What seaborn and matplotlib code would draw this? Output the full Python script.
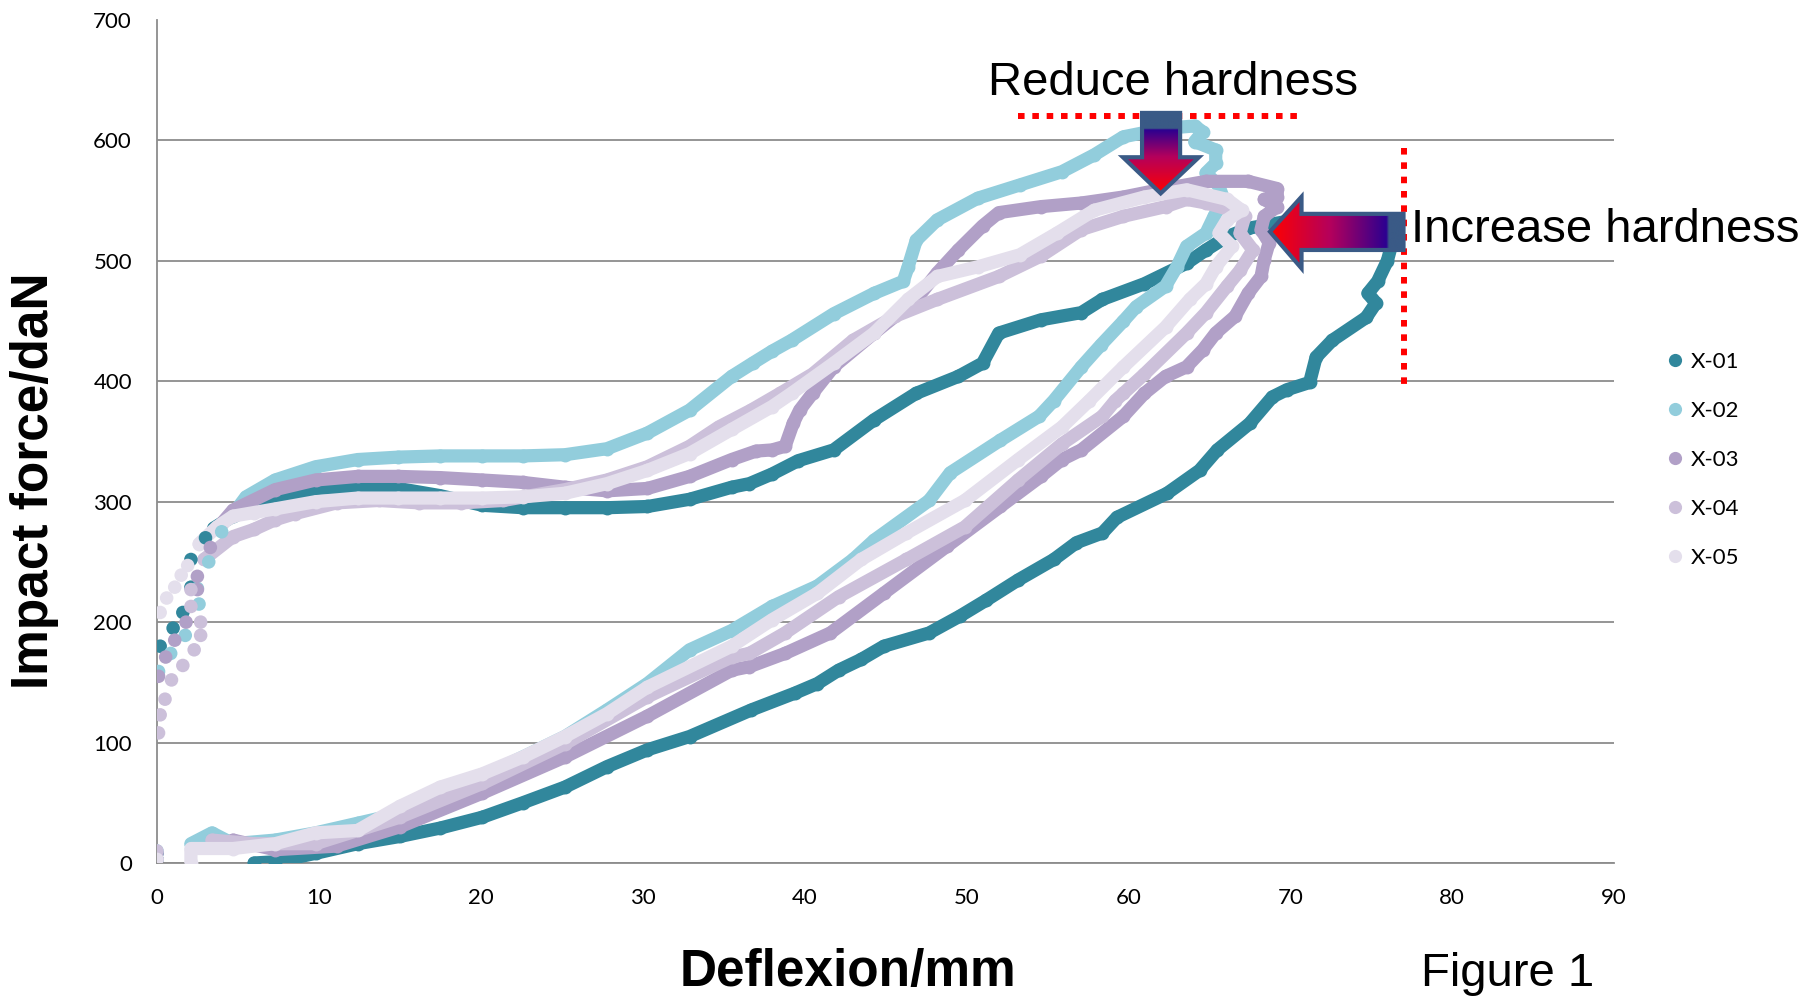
import numpy as np
import pandas as pd
import matplotlib
matplotlib.use("Agg")
import matplotlib.pyplot as plt
import seaborn as sns
from matplotlib.patches import Polygon
from matplotlib.lines import Line2D
from matplotlib.colors import LinearSegmentedColormap
from matplotlib.ticker import MultipleLocator

# --- data (deflexion mm, force daN) ---
samples = ["X-01", "X-02", "X-03", "X-04", "X-05"]
colors = ["#31879c", "#92cddc", "#b1a0c7", "#ccc0da", "#e4dfec"]

# first sparse points of each test (markers only)
x01_rise_x = [0.0, 0.0, 0.2, 1.0, 1.6, 2.1, 2.1, 3.0]
x01_rise_y = [3, 8, 180, 195, 208, 229, 252, 270]
x02_rise_x = [0.0, 0.0, 0.1, 0.85, 1.75, 2.6, 2.5, 3.2, 4.0]
x02_rise_y = [3, 10, 159, 174, 189, 215, 228, 250, 275]
x03_rise_x = [0.0, 0.0, 0.1, 0.54, 1.1, 1.8, 2.5, 2.5, 3.3]
x03_rise_y = [3, 8, 155, 171, 185, 200, 227, 238, 262]
x04_rise_x = [0.0, 0.0, 0.1, 0.2, 0.5, 0.9, 1.6, 2.3, 2.7, 2.7, 2.1, 2.1]
x04_rise_y = [3, 10, 108, 123, 136, 152, 164, 177, 189, 200, 213, 227]
x05_rise_x = [0.0, 0.2, 0.6, 1.1, 1.5, 1.9]
x05_rise_y = [3, 208, 220, 229, 239, 247]

# loading + unloading loop
x01_x = [3.5, 4.7, 6.0, 7.3, 9.8, 12.4, 14.9, 17.5, 20.1, 22.6, 25.2, 27.8, 30.3, 32.9, 35.5,
         36.6, 38.0, 39.6, 41.8, 44.3, 46.9, 49.5, 51.0, 52.0, 54.6, 57.1, 58.4, 61.0, 63.6,
         64.8, 66.1, 67.4, 69.9, 72.0, 74.0, 75.6, 76.3, 76.0, 75.4, 74.8, 75.3, 74.7, 72.6,
         71.6, 71.2, 69.8, 68.9, 67.5, 65.5, 64.4, 62.4, 59.3, 58.4, 56.8, 55.4, 53.2, 51.2,
         49.6, 47.7, 44.9, 43.5, 42.1, 40.8, 39.4, 36.7, 32.9, 30.3, 27.8, 25.2, 22.6, 20.1,
         17.5, 15.0, 12.4, 9.8, 7.3, 6.0]
x01_y = [278, 288, 293, 301, 311, 312, 311, 305, 297, 295, 295, 295, 296, 302, 312,
         315, 323, 334, 343, 368, 390, 404, 415, 440, 451, 457, 468, 481, 498,
         509, 520, 527, 533, 535, 535, 530, 515, 500, 483, 473, 465, 453, 434,
         420, 399, 393, 387, 365, 343, 326, 307, 287, 274, 266, 252, 235, 218,
         205, 191, 180, 169, 160, 149, 141, 127, 105, 94, 80, 63, 50, 38,
         29, 22, 16, 8, 1, 0]

x02_x = [5.0, 5.5, 7.3, 9.8, 12.4, 14.9, 17.5, 20.1, 22.6, 25.2, 27.8, 30.3, 32.9, 35.5, 36.8,
         38.0, 39.2, 41.8, 44.3, 46.1, 46.4, 46.9, 48.2, 50.7, 53.3, 55.9, 57.9, 59.7, 62.3,
         64.1, 64.6, 64.1, 65.4, 65.4, 64.8, 65.6, 65.9, 65.3, 64.8, 63.6, 63.0, 62.3, 60.5,
         59.7, 58.3, 57.1, 55.4, 54.5, 52.1, 49.0, 47.7, 44.3, 43.0, 40.8, 38.0, 35.5, 32.9,
         30.3, 27.8, 25.2, 22.6, 20.1, 17.5, 15.0, 12.4, 9.8, 7.3, 4.7, 3.4, 2.1]
x02_y = [295, 304, 318, 329, 335, 337, 338, 338, 338, 339, 344, 357, 376, 404, 415,
         425, 434, 456, 473, 483, 495, 517, 534, 552, 563, 574, 588, 603, 610,
         612, 607, 599, 592, 581, 573, 562, 551, 537, 523, 512, 495, 479, 462,
         450, 430, 412, 384, 371, 351, 324, 301, 268, 252, 230, 213, 193, 177,
         149, 127, 105, 88, 72, 55, 41, 33, 25, 19, 16, 25, 16]

x03_x = [4.0, 4.7, 7.3, 9.8, 12.4, 14.9, 17.5, 20.1, 22.6, 25.2, 27.8, 30.3, 32.9, 35.5, 37.0,
         38.0, 38.8, 39.3, 39.7, 40.5, 41.8, 44.3, 46.9, 48.2, 49.5, 51.0, 52.0, 54.6, 57.1,
         59.7, 62.3, 64.8, 67.4, 69.2, 69.2, 68.4, 69.2, 68.4, 68.2, 68.7, 68.4, 68.2, 67.4,
         66.6, 65.4, 64.6, 63.6, 62.3, 61.0, 59.7, 57.1, 55.9, 54.6, 52.1, 48.8, 44.9, 41.6,
         38.8, 36.6, 35.5, 30.3, 25.2, 20.1, 15.0, 11.1, 7.3, 4.7]
x03_y = [282, 293, 310, 318, 321, 321, 320, 318, 316, 312, 309, 311, 321, 335, 342,
         343, 346, 365, 376, 390, 412, 440, 468, 490, 509, 529, 540, 545, 548,
         553, 560, 566, 566, 560, 553, 551, 545, 537, 526, 515, 501, 487, 473,
         454, 440, 426, 412, 404, 390, 371, 343, 335, 321, 296, 263, 224, 191,
         174, 163, 160, 122, 88, 58, 30, 14, 11, 19]

x04_x = [2.9, 4.7, 6.0, 7.3, 8.5, 11.1, 13.7, 16.2, 18.8, 21.4, 25.2, 27.8, 30.3, 32.9, 34.7,
         36.7, 38.5, 40.5, 43.0, 45.6, 48.2, 52.0, 54.6, 57.1, 59.7, 62.3, 63.6, 64.8, 66.4,
         67.2, 66.9, 67.7, 66.9, 66.1, 64.8, 63.6, 61.0, 59.7, 59.2, 58.4, 55.9, 53.2, 49.9,
         46.3, 42.1, 38.8, 36.6, 35.5, 30.3, 25.2, 20.1, 15.0, 9.8, 6.0, 3.4]
x04_y = [252, 271, 277, 285, 290, 299, 301, 299, 299, 301, 310, 318, 329, 346, 362,
         376, 390, 406, 434, 454, 468, 487, 504, 526, 537, 545, 551, 548, 542,
         537, 523, 509, 492, 479, 457, 440, 406, 390, 384, 371, 348, 318, 279,
         252, 221, 191, 174, 171, 138, 99, 66, 38, 16, 16, 19]

x05_x = [2.6, 3.7, 4.7, 6.0, 7.3, 9.8, 12.4, 14.9, 17.5, 20.1, 22.6, 25.2, 27.8, 30.3, 32.9,
         35.5, 38.0, 39.2, 41.8, 44.3, 46.4, 48.2, 50.7, 53.3, 55.6, 57.9, 61.0, 63.6, 66.1,
         67.0, 66.1, 65.6, 66.4, 65.4, 64.8, 63.8, 62.3, 59.7, 57.6, 55.9, 53.2, 49.9, 46.3,
         43.5, 40.8, 38.0, 35.5, 30.3, 27.8, 25.2, 22.6, 20.1, 17.5, 15.0, 12.4, 9.8, 7.3,
         4.7, 2.1, 2.1]
x05_y = [265, 279, 288, 291, 294, 300, 303, 303, 303, 303, 304, 307, 315, 326, 340,
         360, 379, 390, 415, 440, 468, 487, 495, 505, 523, 542, 553, 559, 551,
         542, 534, 523, 512, 495, 481, 468, 445, 412, 384, 362, 335, 301, 274,
         252, 224, 202, 180, 146, 124, 105, 88, 74, 63, 47, 27, 25, 16,
         12, 12, 0]

rise = [(x01_rise_x, x01_rise_y), (x02_rise_x, x02_rise_y), (x03_rise_x, x03_rise_y),
        (x04_rise_x, x04_rise_y), (x05_rise_x, x05_rise_y)]
loops = [(x01_x, x01_y), (x02_x, x02_y), (x03_x, x03_y), (x04_x, x04_y), (x05_x, x05_y)]

rise_df = pd.concat([pd.DataFrame({"x": a, "y": b, "sample": s}) for s, (a, b) in zip(samples, rise)])
loop_df = pd.concat([pd.DataFrame({"x": a, "y": b, "sample": s}) for s, (a, b) in zip(samples, loops)])
palette = dict(zip(samples, colors))

# --- figure ---
sns.set_style("white")
plt.rcParams["font.family"] = ["Lato", "DejaVu Sans"]
plt.rcParams["text.color"] = "black"
plt.rcParams["xtick.color"] = "#8c8c8c"
plt.rcParams["ytick.color"] = "#8c8c8c"
plt.rcParams["xtick.labelcolor"] = "black"
plt.rcParams["ytick.labelcolor"] = "black"

fig = plt.figure(figsize=(18.1, 9.98), dpi=100)
ax = fig.add_axes([0.0867, 0.1353, 0.805, 0.8447])

sns.lineplot(data=loop_df, x="x", y="y", hue="sample", palette=palette, sort=False,
             estimator=None, lw=9.5, marker="o", ms=10, mew=0, mec="none",
             legend=False, ax=ax, zorder=3)
sns.scatterplot(data=rise_df, x="x", y="y", hue="sample", palette=palette, s=95,
                linewidth=0, legend=False, ax=ax, zorder=4)

# dotted guide lines
ax.plot([53.2, 70.8], [620, 620], color="red", lw=4.3, ls=(0, (1.1, 1.3)),
        dash_capstyle="butt", zorder=5, clip_on=False)
ax.plot([77.0, 77.0], [594, 398], color="red", lw=4.3, ls=(0, (1.1, 1.3)),
        dash_capstyle="butt", zorder=5, clip_on=False)

# gradient block arrows
edge = "#3a5a86"
cm_down = LinearSegmentedColormap.from_list(
    "down", [(0, "#ff0000"), (0.45, "#b4005c"), (0.78, "#2c0090"), (0.8, edge), (1, edge)])
cm_left = LinearSegmentedColormap.from_list(
    "left", [(0, "#ff0000"), (0.45, "#b4005c"), (0.87, "#2c0090"), (0.89, edge), (1, edge)])

down = Polygon([(60.85, 622.8), (63.2, 622.8), (63.2, 586), (64.36, 586), (62.0, 556),
                (59.67, 586), (60.85, 586)], closed=True, fc="none", ec=edge, lw=3,
               zorder=7, joinstyle="miter")
ax.add_patch(down)
im = ax.imshow(np.linspace(1, 0, 256).reshape(-1, 1), extent=[59.67, 64.36, 556, 622.8],
               aspect="auto", cmap=cm_down, zorder=6)
im.set_clip_path(down)

left = Polygon([(68.75, 524.2), (70.7, 553.2), (70.7, 539), (77.0, 539), (77.0, 509),
                (70.7, 509), (70.7, 493.7)], closed=True, fc="none", ec=edge, lw=3,
               zorder=7, joinstyle="miter")
ax.add_patch(left)
im2 = ax.imshow(np.linspace(0, 1, 256).reshape(1, -1), extent=[68.75, 77.0, 493.7, 553.2],
                aspect="auto", cmap=cm_left, zorder=6)
im2.set_clip_path(left)

# axes styling
ax.set_xlim(0, 90)
ax.set_ylim(0, 700)
ax.set_xticks(range(0, 91, 10))
ax.set_yticks(range(0, 701, 100))
ax.xaxis.set_minor_locator(MultipleLocator(2))
ax.yaxis.set_minor_locator(MultipleLocator(20))
ax.tick_params(which="both", direction="in", width=1.2, labelsize=16)
ax.tick_params(which="major", length=6)
ax.tick_params(which="minor", length=4)
ax.tick_params(axis="y", pad=18)
ax.tick_params(axis="x", pad=18)
ax.yaxis.grid(True, color="#8c8c8c", lw=1.3)
ax.set_axisbelow(True)
ax.yaxis.get_gridlines()[-1].set_visible(False)
for s in ["top", "right"]:
    ax.spines[s].set_visible(False)
for s in ["left", "bottom"]:
    ax.spines[s].set_color("#8c8c8c")
    ax.spines[s].set_linewidth(1.3)
ax.set_xlabel("")
ax.set_ylabel("")

big = ["Liberation Sans", "DejaVu Sans"]
fig.text(35 / 1810, 1 - 481 / 998, "Impact force/daN", rotation=90, ha="center", va="center",
         fontsize=37, fontweight="bold", family=big)
fig.text(848 / 1810, 1 - 986 / 998, "Deflexion/mm", ha="center", va="baseline",
         fontsize=37, fontweight="bold", family=big)
fig.text(1508 / 1810, 1 - 986 / 998, "Figure 1", ha="center", va="baseline",
         fontsize=34, family=big)
fig.text(1173 / 1810, 1 - 95 / 998, "Reduce hardness", ha="center", va="baseline",
         fontsize=34, family=big)
fig.text(1411 / 1810, 1 - 242 / 998, "Increase hardness", ha="left", va="baseline",
         fontsize=34, family=big)

handles = [Line2D([], [], ls="", marker="o", ms=9.5, mew=0, color=c) for c in colors]
fig.legend(handles, samples, loc="center left", bbox_to_anchor=(1666 / 1810, 1 - 460 / 998),
           frameon=False, fontsize=16, handlelength=0.8, handletextpad=0.3,
           labelspacing=1.3, borderpad=0, borderaxespad=0)

fig.savefig("out.png", dpi=100)
